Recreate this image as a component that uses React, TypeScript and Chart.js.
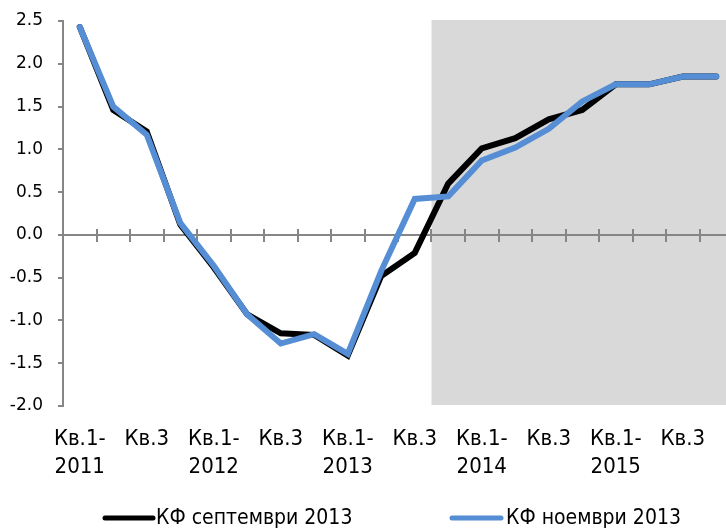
import React, { useEffect, useRef } from "react";
import { Chart, registerables } from "chart.js";

Chart.register(...registerables);

const categories = [
  "Кв.1-2011", "Кв.2-2011", "Кв.3-2011", "Кв.4-2011",
  "Кв.1-2012", "Кв.2-2012", "Кв.3-2012", "Кв.4-2012",
  "Кв.1-2013", "Кв.2-2013", "Кв.3-2013", "Кв.4-2013",
  "Кв.1-2014", "Кв.2-2014", "Кв.3-2014", "Кв.4-2014",
  "Кв.1-2015", "Кв.2-2015", "Кв.3-2015", "Кв.4-2015",
];

const xTickLabels: (string | string[])[] = [
  ["Кв.1-", "2011"], "", ["Кв.3"], "",
  ["Кв.1-", "2012"], "", ["Кв.3"], "",
  ["Кв.1-", "2013"], "", ["Кв.3"], "",
  ["Кв.1-", "2014"], "", ["Кв.3"], "",
  ["Кв.1-", "2015"], "", ["Кв.3"], "",
];

const septemberForecast = [
  2.43, 1.46, 1.21, 0.12, -0.38, -0.93, -1.15, -1.17, -1.41, -0.48,
  -0.21, 0.6, 1.01, 1.13, 1.35, 1.46, 1.76, 1.76, 1.85, 1.85,
];

const novemberForecast = [
  2.43, 1.5, 1.17, 0.14, -0.36, -0.93, -1.27, -1.16, -1.39, -0.42,
  0.42, 0.45, 0.87, 1.02, 1.24, 1.56, 1.76, 1.76, 1.85, 1.85,
];

const seriesLabels = ["КФ септември 2013", "КФ ноември 2013"];
const seriesColors = ["#000000", "#558ed5"];

const yMin = -2;
const yMax = 2.5;
const yStep = 0.5;
const forecastStartIndex = 11;

const backdropPlugin = {
  id: "backdrop",
  beforeDatasetsDraw(chart: any) {
    const { ctx, chartArea, scales } = chart;
    const x = scales.x;
    const y = scales.y;
    const half = (x.getPixelForValue(1) - x.getPixelForValue(0)) / 2;
    const x0 = x.getPixelForValue(forecastStartIndex) - half;
    const top = y.getPixelForValue(yMax) - 1;
    const bottom = y.getPixelForValue(yMin) - 1;
    ctx.save();
    ctx.fillStyle = "#d9d9d9";
    ctx.fillRect(x0, top, chart.width - x0, bottom - top);
    const zy = y.getPixelForValue(0);
    ctx.strokeStyle = "#868686";
    ctx.lineWidth = 2;
    ctx.beginPath();
    ctx.moveTo(chartArea.left, zy);
    ctx.lineTo(chart.width, zy);
    ctx.stroke();
    for (let i = 1; i <= categories.length; i++) {
      const tx = Math.round(x.getPixelForValue(i) - half);
      ctx.beginPath();
      ctx.moveTo(tx, zy - 6);
      ctx.lineTo(tx, zy + 7);
      ctx.stroke();
    }
    ctx.restore();
  },
};

const legendPlugin = {
  id: "customLegend",
  afterDraw(chart: any) {
    const { ctx } = chart;
    const positions = [
      { x0: 103, x1: 155, tx: 156 },
      { x0: 450, x1: 503, tx: 506 },
    ];
    const ly = 518;
    ctx.save();
    chart.data.datasets.forEach((ds: any, i: number) => {
      const p = positions[i];
      ctx.strokeStyle = ds.borderColor;
      ctx.lineWidth = 5;
      ctx.lineCap = "round";
      ctx.beginPath();
      ctx.moveTo(p.x0 + 2, ly);
      ctx.lineTo(p.x1 - 2, ly);
      ctx.stroke();
      ctx.fillStyle = "#000";
      ctx.font = "21px 'DejaVu Sans Condensed'";
      ctx.textBaseline = "middle";
      ctx.textAlign = "left";
      ctx.fillText(ds.label, p.tx, ly + 1);
    });
    ctx.restore();
  },
};

export default function App() {
  const canvasRef = useRef<HTMLCanvasElement | null>(null);

  useEffect(() => {
    document.body.style.margin = "0";
    const canvas = canvasRef.current;
    if (!canvas) return;
    const chart = new Chart(canvas, {
      type: "line",
      data: {
        labels: categories,
        datasets: [
          {
            label: seriesLabels[0],
            data: septemberForecast,
            borderColor: seriesColors[0],
            backgroundColor: seriesColors[0],
            borderWidth: 6,
            pointRadius: 0,
            tension: 0,
            borderCapStyle: "round",
            borderJoinStyle: "miter",
            order: 2,
          },
          {
            label: seriesLabels[1],
            data: novemberForecast,
            borderColor: seriesColors[1],
            backgroundColor: seriesColors[1],
            borderWidth: 6,
            pointRadius: 0,
            tension: 0,
            borderCapStyle: "round",
            borderJoinStyle: "miter",
            order: 1,
          },
        ],
      },
      options: {
        animation: false,
        responsive: false,
        devicePixelRatio: 1,
        layout: { padding: { top: 21, right: 7, bottom: 0, left: 0 } },
        plugins: {
          legend: { display: false },
          tooltip: { enabled: false },
        },
        scales: {
          x: {
            offset: true,
            grid: { display: false },
            border: { display: false },
            ticks: {
              autoSkip: false,
              maxRotation: 0,
              minRotation: 0,
              color: "#000",
              padding: 11,
              font: { family: "'DejaVu Sans Condensed'", size: 22, lineHeight: 1.27 },
              callback: (_v: any, i: number) => xTickLabels[i],
            },
            afterFit: (s: any) => {
              s.height = 126;
              s.paddingTop = 0;
              s.paddingBottom = 0;
              s.paddingLeft = 0;
              s.paddingRight = 0;
            },
          },
          y: {
            min: yMin,
            max: yMax,
            ticks: {
              stepSize: yStep,
              color: "#000",
              padding: 15,
              font: { family: "'DejaVu Sans'", size: 17 },
              callback: (v: any) => Number(v).toFixed(1),
            },
            grid: {
              drawOnChartArea: false,
              drawTicks: true,
              tickLength: 5,
              color: "#868686",
              lineWidth: 2,
            },
            border: { color: "#868686", width: 2 },
            afterFit: (s: any) => {
              s.width = 63;
              s.paddingTop = 0;
              s.paddingBottom = 0;
            },
          },
        },
      },
      plugins: [backdropPlugin, legendPlugin],
    });
    return () => chart.destroy();
  }, []);

  return (
    <div
      style={{
        position: "fixed",
        left: 0,
        top: 0,
        width: 726,
        height: 532,
        overflow: "hidden",
        background: "#fff",
      }}
    >
      <canvas ref={canvasRef} width={740} height={532} style={{ display: "block" }} />
    </div>
  );
}
